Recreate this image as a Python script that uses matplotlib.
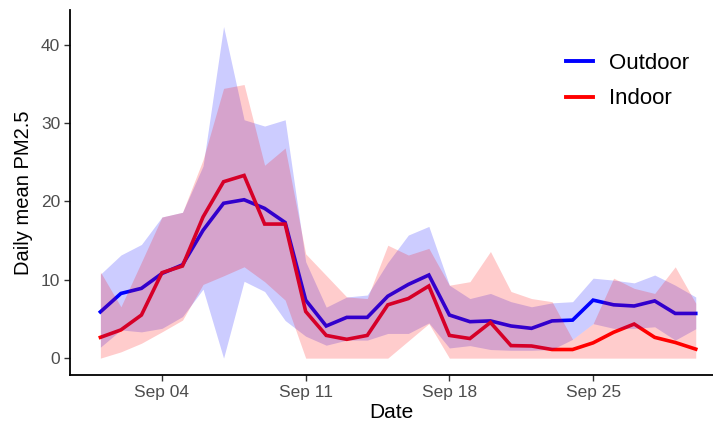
import matplotlib
matplotlib.use("Agg")
import matplotlib.pyplot as plt
import matplotlib.dates as mdates
import numpy as np
import pandas as pd
from matplotlib.lines import Line2D

plt.rcParams['font.family'] = ['Liberation Sans', 'DejaVu Sans']

# Daily series, 1-30 September
dates = pd.date_range("2023-09-01", periods=30, freq="D")

outdoor_mean = [5.9, 8.25, 8.9, 10.8, 11.9, 16.3, 19.75, 20.2, 19.1, 17.3,
                7.4, 4.1, 5.2, 5.2, 7.9, 9.4, 10.6, 5.5, 4.65, 4.75,
                4.1, 3.8, 4.75, 4.85, 7.4, 6.8, 6.65, 7.3, 5.7, 5.7]
outdoor_low = [1.4, 3.6, 3.35, 3.8, 5.3, 8.8, 0.0, 9.8, 8.5, 4.8,
               2.8, 1.65, 2.3, 2.3, 3.15, 3.15, 4.5, 1.3, 1.6, 1.1,
               1.0, 1.0, 1.1, 2.4, 4.4, 3.8, 3.8, 4.0, 2.3, 3.75]
outdoor_high = [10.7, 13.15, 14.5, 18.0, 18.6, 24.5, 42.3, 30.4, 29.6, 30.4,
                12.3, 6.5, 7.8, 8.05, 12.2, 15.7, 16.8, 9.3, 7.6, 8.25,
                7.2, 6.55, 7.05, 7.2, 10.2, 9.95, 9.6, 10.6, 9.3, 7.8]

indoor_mean = [2.65, 3.6, 5.5, 10.9, 11.75, 18.0, 22.5, 23.3, 17.1, 17.1,
               5.95, 2.9, 2.4, 2.9, 6.8, 7.6, 9.2, 2.9, 2.5, 4.55,
               1.6, 1.55, 1.1, 1.1, 1.95, 3.3, 4.35, 2.65, 2.0, 1.15]
indoor_low = [0.0, 0.8, 1.9, 3.35, 4.85, 9.4, 10.5, 11.65, 9.75, 7.4,
              0.0, 0.0, 0.0, 0.0, 0.0, 2.2, 4.4, 0.0, 0.0, 0.0,
              0.0, 0.0, 0.0, 0.0, 0.0, 0.0, 0.0, 0.0, 0.0, 0.0]
indoor_high = [11.0, 6.55, 12.25, 18.0, 18.6, 25.3, 34.4, 34.9, 24.6, 26.8,
               13.3, 10.55, 7.8, 7.6, 14.4, 13.15, 14.0, 9.3, 9.75, 13.6,
               8.5, 7.6, 7.2, 2.4, 4.4, 10.2, 8.9, 8.25, 11.65, 7.0]

series_names = ["Outdoor", "Indoor"]
series_colors = ["#0000FF", "#FF0000"]
y_ticks = [0, 10, 20, 30, 40]
x_tick_dates = pd.to_datetime(["2023-09-04", "2023-09-11", "2023-09-18", "2023-09-25"])

W, H = 713, 428
fig = plt.figure(figsize=(W / 100, H / 100), dpi=100)
ax = fig.add_axes([70 / W, (H - 375) / H, (713 - 70) / W, (375 - 10) / H])

means = [outdoor_mean, indoor_mean]
lows = [outdoor_low, indoor_low]
highs = [outdoor_high, indoor_high]

# lines first, ribbons drawn over them
for m, c in zip(means, series_colors):
    ax.plot(dates, m, color=c, lw=2.6, solid_joinstyle="miter", zorder=2)
for lo, hi, c in zip(lows, highs, series_colors):
    ax.fill_between(dates, lo, hi, color=c, alpha=0.2, lw=0, zorder=3)

x0 = mdates.date2num(dates[0])
ax.set_xlim(x0 - 1.48, x0 + 29 + 0.84)
ax.set_ylim(-2.15, 44.4)
ax.set_xticks(x_tick_dates)
ax.xaxis.set_major_formatter(mdates.DateFormatter("%b %d"))
ax.set_yticks(y_ticks)

for s in ["top", "right"]:
    ax.spines[s].set_visible(False)
for s in ["left", "bottom"]:
    ax.spines[s].set_linewidth(1.3)
    ax.spines[s].set_color("black")
ax.tick_params(axis="both", length=4, width=1.0, color="#333333",
               labelcolor="#4D4D4D", labelsize=12.5, pad=3)

ax.set_xlabel("Date", fontsize=15, color="black", labelpad=2)
ax.set_ylabel("Daily mean PM2.5", fontsize=14.5, color="black", labelpad=6)

handles = [Line2D([0], [0], color=c, lw=2.8) for c in series_colors]
leg = ax.legend(handles, series_names, loc="upper left",
                bbox_to_anchor=((546 - 70) / (713 - 70), 1 - (33 - 10) / 365),
                frameon=False, fontsize=16, handlelength=1.2,
                handletextpad=0.75, labelspacing=0.65)

fig.savefig("out.png", dpi=100)
